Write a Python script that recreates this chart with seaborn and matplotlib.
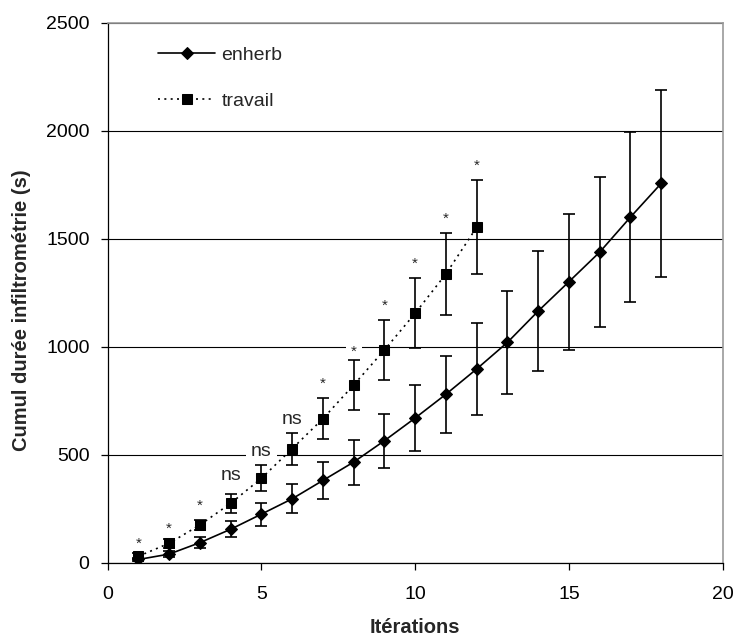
import matplotlib
matplotlib.use("Agg")
import matplotlib.pyplot as plt
import seaborn as sns
import pandas as pd

# ---- data ----
iter_enherb = list(range(1, 19))
enherb = [15, 40, 93, 155, 225, 296, 381, 466, 565, 670, 780, 897, 1020, 1165, 1301, 1438, 1600, 1756]
enherb_err = [8, 15, 25, 37, 53, 68, 85, 104, 125, 152, 179, 212, 240, 277, 315, 348, 392, 434]

iter_travail = list(range(1, 13))
travail = [30, 90, 175, 275, 391, 528, 667, 823, 985, 1155, 1337, 1553]
travail_err = [15, 20, 24, 43, 60, 74, 94, 115, 137, 163, 189, 218]

sig_labels = ["*", "*", "*", "ns", "ns", "ns", "*", "*", "*", "*", "*", "*"]
sig_y = [110, 179, 285, 406, 517, 665, 850, 996, 1212, 1405, 1613, 1857]

x_ticks = [0, 5, 10, 15, 20]
y_ticks = [0, 500, 1000, 1500, 2000, 2500]

df_e = pd.DataFrame({"it": iter_enherb, "val": enherb, "err": enherb_err})
df_t = pd.DataFrame({"it": iter_travail, "val": travail, "err": travail_err})

sns.set_theme(style="white")
plt.rcParams["font.family"] = ["Liberation Sans", "DejaVu Sans"]

fig = plt.figure(figsize=(7.35, 6.37), dpi=100)
ax = fig.add_axes([0.1465, 0.1166, 0.8368, 0.8478])

# error bars
ax.errorbar(df_e["it"], df_e["val"], yerr=df_e["err"], fmt="none", ecolor="black",
            elinewidth=1.2, capsize=4, capthick=1.2, zorder=2)
ax.errorbar(df_t["it"], df_t["val"], yerr=df_t["err"], fmt="none", ecolor="black",
            elinewidth=1.2, capsize=4, capthick=1.2, zorder=2)

sns.lineplot(data=df_e, x="it", y="val", ax=ax, color="black", linewidth=1.2,
             marker="D", markersize=6, markeredgecolor="black", label="enherb",
             zorder=3)
sns.lineplot(data=df_t, x="it", y="val", ax=ax, color="black", linewidth=1.2,
             linestyle=(0, (1.2, 2.6)), marker="s", markersize=6.5,
             markeredgecolor="black", label="travail", zorder=3)

# significance labels
for xi, lab, yv in zip(iter_travail, sig_labels, sig_y):
    if lab == "*":
        ax.annotate(lab, (xi, yv), xytext=(0, -3.3), textcoords="offset points",
                    ha="center", va="center", fontsize=11, zorder=1,
                    bbox=dict(facecolor="white", edgecolor="none", pad=3.5))
    else:
        ax.annotate(lab, (xi, yv), ha="center", va="center", fontsize=14, zorder=1,
                    bbox=dict(facecolor="white", edgecolor="none", pad=3.5))

ax.set_xlim(0, 20)
ax.set_ylim(0, 2500)
ax.set_xticks(x_ticks)
ax.set_yticks(y_ticks)
ax.set_axisbelow(True)
ax.yaxis.grid(True, color="black", linewidth=0.8)
ax.xaxis.grid(False)

for s in ["left", "bottom"]:
    ax.spines[s].set_color("black")
    ax.spines[s].set_linewidth(0.9)
for s in ["top", "right"]:
    ax.spines[s].set_color("#9a9a9a")
    ax.spines[s].set_linewidth(1.2)

ax.tick_params(axis="both", which="major", direction="out", length=5, width=0.9,
               color="black", labelsize=14, labelcolor="black")
ax.tick_params(axis="y", pad=8, left=True)
ax.tick_params(axis="x", pad=12, bottom=True)

ax.set_xlabel("Itérations", fontsize=14.5, fontweight="bold")
ax.set_ylabel("Cumul durée infiltrométrie (s)", fontsize=14.5, fontweight="bold")
ax.xaxis.set_label_coords(0.5, -0.103)
ax.yaxis.set_label_coords(-0.125, 0.468)

leg = ax.legend(loc="upper left", bbox_to_anchor=(0.082, 0.957), frameon=False,
                fontsize=14, handlelength=2.95, handletextpad=0.3, labelspacing=1.5,
                borderpad=0, borderaxespad=0)

fig.savefig("out.png", dpi=100)
